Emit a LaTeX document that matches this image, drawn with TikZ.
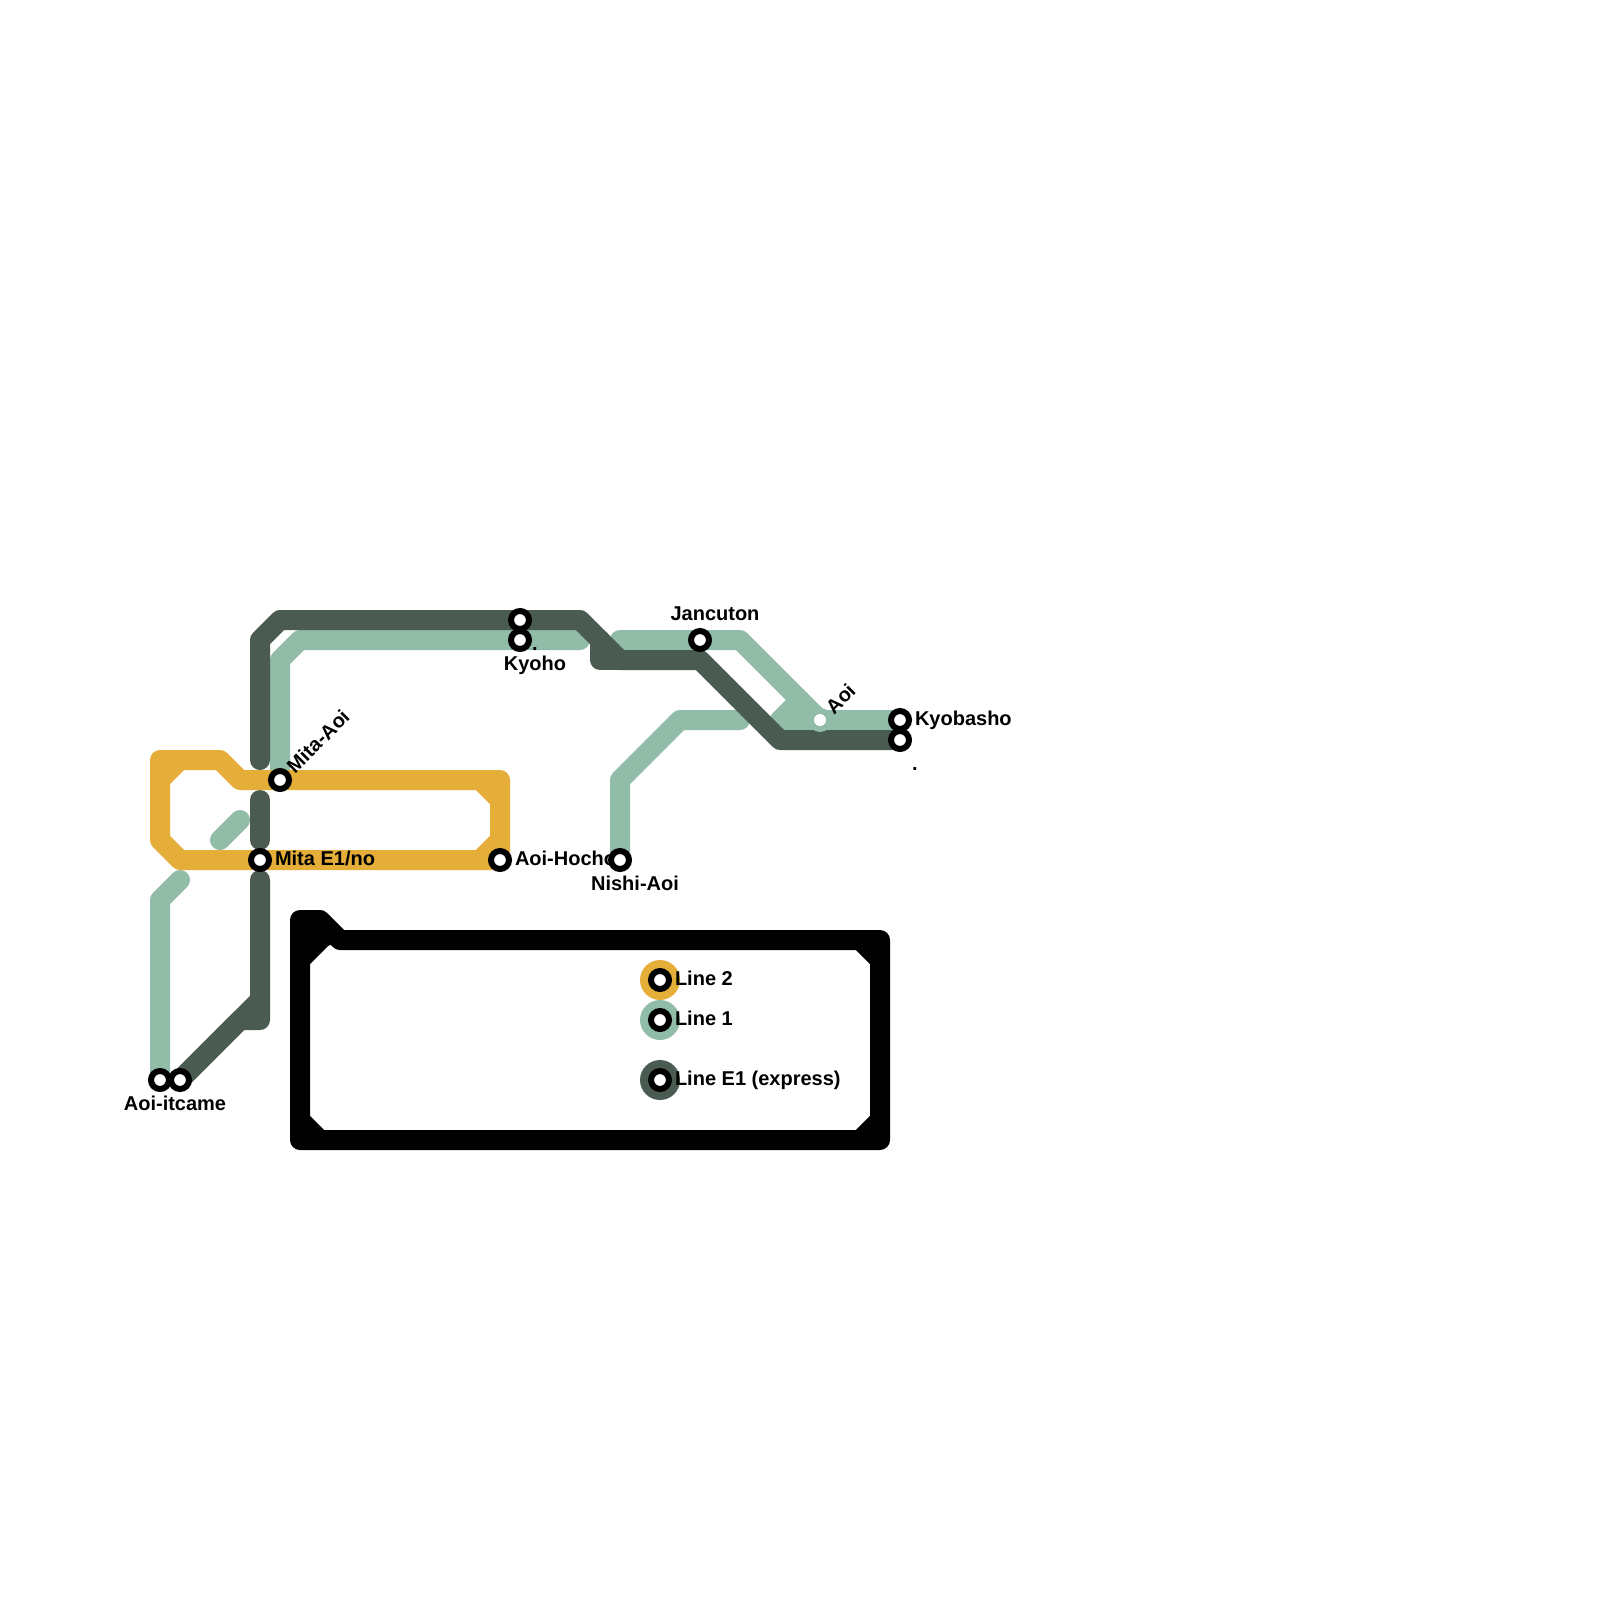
\documentclass[tikz,border=0pt]{standalone}
\usepackage{fontspec}
\setmainfont{Liberation Sans}[BoldFont={Liberation Sans Bold}]
\definecolor{lineE}{HTML}{4A5C52}
\definecolor{lineA}{HTML}{90BCA8}
\definecolor{lineB}{HTML}{E5AE38}
\tikzset{
  metro/.style={line width=20pt,line cap=round,line join=round},
  dark/.style={metro,draw=lineE},
  sage/.style={metro,draw=lineA},
  amber/.style={metro,draw=lineB},
  framed/.style={metro,draw=black},
  station/.style={circle,draw=black,fill=white,line width=6pt,minimum size=18pt,inner sep=0pt,outer sep=0pt},
  swatch/.style={circle,minimum size=40pt,inner sep=0pt,outer sep=0pt},
  lbl/.style={inner sep=0pt,outer sep=0pt,font=\fontsize{20pt}{22pt}\selectfont\bfseries,text=black},
}
\begin{document}
\begin{tikzpicture}[x=1pt,y=-1pt]
\useasboundingbox (0,0) rectangle (1600,1600);
\fill[white] (0,0) rectangle (1600,1600);
% station positions
\coordinate (pKyohoA) at (520,620);
\coordinate (pKyohoB) at (520,640);
\coordinate (pJancuton) at (700,640);
\coordinate (pAoi) at (820,720);
\coordinate (pKyobashoA) at (900,720);
\coordinate (pKyobashoB) at (900,740);
\coordinate (pMitaAoi) at (280,780);
\coordinate (pMita) at (260,860);
\coordinate (pHocho) at (500,860);
\coordinate (pNishi) at (620,860);
\coordinate (pItcameA) at (160,1080);
\coordinate (pItcameB) at (180,1080);
% Line 1
\draw[sage] (pMitaAoi) -- (280,660) -- (300,640) -- (pKyohoB) -- (580,640);
\draw[sage] (620,640) -- (pJancuton) -- (740,640) -- (pAoi) -- (pKyobashoA);
\draw[sage] (pAoi) -- (780,720) -- (800,700);
\fill[lineA] (780,720) -- (800,700) -- (pAoi) -- cycle;
\draw[sage] (pNishi) -- (620,780) -- (680,720) -- (740,720);
\draw[sage] (220,840) -- (240,820);
\draw[sage] (180,880) -- (160,900) -- (pItcameA);
% Line E1
\draw[dark] (260,760) -- (260,640) -- (280,620) -- (pKyohoA) -- (580,620) -- (620,660) -- (700,660) -- (780,740) -- (pKyobashoB);
\draw[dark] (600,640) -- (600,660) -- (620,660);
\draw[dark] (260,800) -- (260,840);
\draw[dark] (260,880) -- (260,1020) -- (240,1020) -- (pItcameB);
\draw[dark] (pItcameB) -- (260,1000);
\fill[lineE] (260,1000) -- (260,1020) -- (240,1020) -- cycle;
% Line 2
\draw[amber] (160,840) -- (160,760) -- (220,760) -- (240,780) -- (pMitaAoi) -- (500,780) -- (pHocho) -- (pMita) -- (180,860) -- cycle;
\draw[amber] (160,780) -- (180,760);
\draw[amber] (480,780) -- (500,800);
\draw[amber] (480,860) -- (500,840);
% legend frame
\draw[framed] (300,1140) -- (300,920) -- (320,920) -- (340,940) -- (880,940) -- (880,1140) -- cycle;
\fill[black] (300,920) -- (320,920) -- (340,940) -- (320,950) -- (300,960) -- cycle;
\draw[framed] (300,960) -- (320,940);
\draw[framed] (860,940) -- (880,960);
\draw[framed] (300,1120) -- (320,1140);
\draw[framed] (860,1140) -- (880,1120);
% legend swatches
\node[swatch,fill=lineB] (swB) at (660,980) {};
\node[swatch,fill=lineA] (swA) at (660,1020) {};
\node[swatch,fill=lineE] (swE) at (660,1080) {};
% labels
\node[lbl,anchor=base west] (tMita) at (275,865) {Mita E1/no};
\node[lbl,anchor=base west] (tHocho) at (515,865) {Aoi-Hocho};
\node[lbl,anchor=base west] (tKyobasho) at (915,725) {Kyobasho};
\node[lbl,anchor=base] (tDotA) at (535,650) {.};
\node[lbl,anchor=base] (tDotB) at (915,770) {.};
\node[lbl,anchor=base] (tKyoho) at (535,670) {Kyoho};
\node[lbl,anchor=base] (tJancuton) at (715,620) {Jancuton};
\node[lbl,anchor=base] (tNishi) at (635,890) {Nishi-Aoi};
\node[lbl,anchor=base] (tItcame) at (175,1110) {Aoi-itcame};
\node[lbl,anchor=west,rotate=45] (tMitaAoi) at (290,769) {Mita-Aoi};
\node[lbl,anchor=west,rotate=45] (tAoi) at (829,710) {Aoi};
\node[lbl,anchor=base west] (tL2) at (675,985) {Line 2};
\node[lbl,anchor=base west] (tL1) at (675,1025) {Line 1};
\node[lbl,anchor=base west] (tLE) at (675,1085) {Line E1 (express)};
% Aoi interchange
\fill[lineA] (pAoi) circle (12pt);
\node[circle,fill=white,minimum size=12pt,inner sep=0pt] (sAoi) at (pAoi) {};
% stations
\node[station] (sKyohoA) at (pKyohoA) {};
\node[station] (sKyohoB) at (pKyohoB) {};
\node[station] (sJancuton) at (pJancuton) {};
\node[station] (sKyobashoA) at (pKyobashoA) {};
\node[station] (sKyobashoB) at (pKyobashoB) {};
\node[station] (sMitaAoi) at (pMitaAoi) {};
\node[station] (sMita) at (pMita) {};
\node[station] (sHocho) at (pHocho) {};
\node[station] (sNishi) at (pNishi) {};
\node[station] (sItcameA) at (pItcameA) {};
\node[station] (sItcameB) at (pItcameB) {};
\node[station] (sL2) at (swB) {};
\node[station] (sL1) at (swA) {};
\node[station] (sLE) at (swE) {};
\end{tikzpicture}
\end{document}
